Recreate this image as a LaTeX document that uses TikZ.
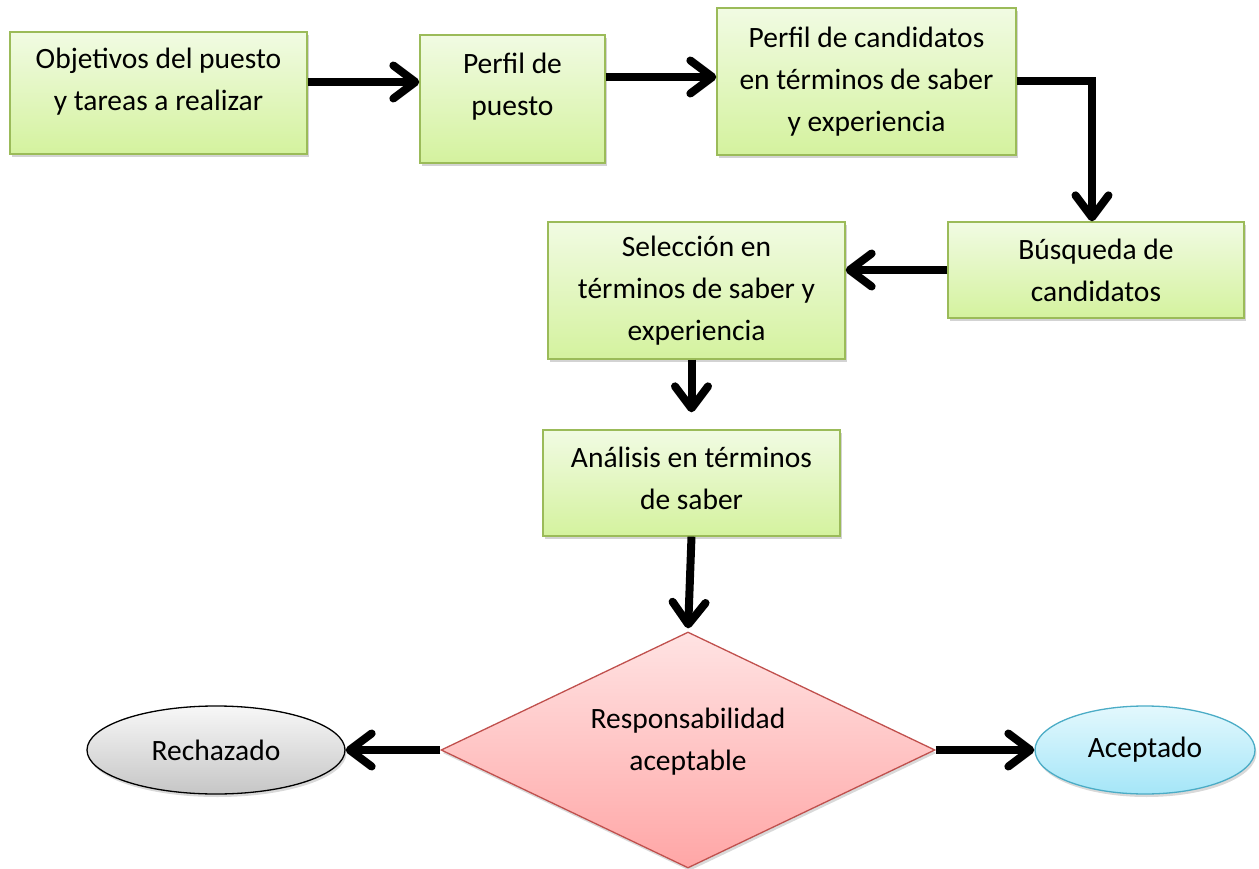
\documentclass[tikz,border=0pt]{standalone}
\usepackage{fontspec}
\setmainfont{Carlito}
\usetikzlibrary{shapes.geometric,shadows,arrows.meta}

\definecolor{boxtop}{HTML}{F1FBE3}
\definecolor{boxbot}{HTML}{D4F29E}
\definecolor{boxline}{HTML}{9BBB59}
\definecolor{dectop}{HTML}{FFE3E3}
\definecolor{decbot}{HTML}{FFA6A6}
\definecolor{decline}{HTML}{C0504D}
\definecolor{rejtop}{HTML}{F7F7F7}
\definecolor{rejbot}{HTML}{C6C6C6}
\definecolor{acctop}{HTML}{E3F8FD}
\definecolor{accbot}{HTML}{A5E6F8}
\definecolor{accline}{HTML}{4BACC6}

\begin{document}
\begin{tikzpicture}[x=1pt,y=-1pt,>={Straight Barb[length=22pt,width=33pt,round]},->,line width=8pt]
\tikzstyle{every node} = [font=\fontsize{29.5}{42}\selectfont, align=center, line width=1.3pt]
\tikzstyle{box} = [rectangle, draw=boxline, top color=boxtop, bottom color=boxbot, drop shadow={shadow xshift=1.5pt,shadow yshift=-3pt,opacity=.35}]
\tikzstyle{decision} = [diamond, draw=decline, top color=dectop, bottom color=decbot, inner sep=0pt, minimum width=494pt, minimum height=236pt, drop shadow={shadow xshift=1.5pt,shadow yshift=-3pt,opacity=.3}]
\tikzstyle{Rej} = [ellipse, draw=black, top color=rejtop, bottom color=rejbot, inner sep=0pt, minimum width=258pt, minimum height=88pt, drop shadow={shadow xshift=1.5pt,shadow yshift=-3pt,opacity=.3}]
\tikzstyle{Acc} = [ellipse, draw=accline, top color=acctop, bottom color=accbot, inner sep=0pt, minimum width=220pt, minimum height=88pt, drop shadow={shadow xshift=1.5pt,shadow yshift=-3pt,opacity=.3}]
\useasboundingbox (0,0) rectangle (1259,869);
\node[box, minimum width=297pt, minimum height=122pt, label={[yshift=11pt]center:Objetivos del puesto\\y tareas a realizar}] (obj) at (158.5,93) {};
\node[box, minimum width=185pt, minimum height=128pt, label={[yshift=12pt]center:Perfil de\\puesto}] (perf) at (512.5,99) {};
\node[box, minimum width=299pt, minimum height=147pt] (cand) at (866.5,81.5) {Perfil de candidatos\\en términos de saber\\y experiencia};
\node[box, minimum width=296pt, minimum height=96pt] (busq) at (1096,270) {Búsqueda de\\candidatos};
\node[box, minimum width=297pt, minimum height=137pt] (sel) at (696.5,290.5) {Selección en\\términos de saber y\\experiencia};
\node[box, minimum width=297pt, minimum height=106pt, label={[yshift=5pt]center:Análisis en términos\\de saber}] (anal) at (691.5,483) {};
\node[decision, label={[yshift=8pt]center:Responsabilidad\\aceptable}] (dec) at (688,750) {};
\node[Rej] (rech) at (216,750) {Rechazado};
\node[Acc] (acep) at (1145,750) {Aceptado};
\path ([yshift=11pt]obj.east) edge ([yshift=17pt]perf.west)
      ([yshift=22pt]perf.east) edge ([yshift=4.5pt]cand.west)
      (busq.west) edge (busq.west -| sel.east)
      (sel.south -| anal.north) edge[shorten >=17pt] (anal.north)
      (anal.south) edge[shorten >=3pt] (dec.north)
      (dec.west) edge (rech.east)
      (dec.east) edge (acep.west);
\draw (cand.east) -| ([xshift=-4pt]busq.north);
\end{tikzpicture}
\end{document}
